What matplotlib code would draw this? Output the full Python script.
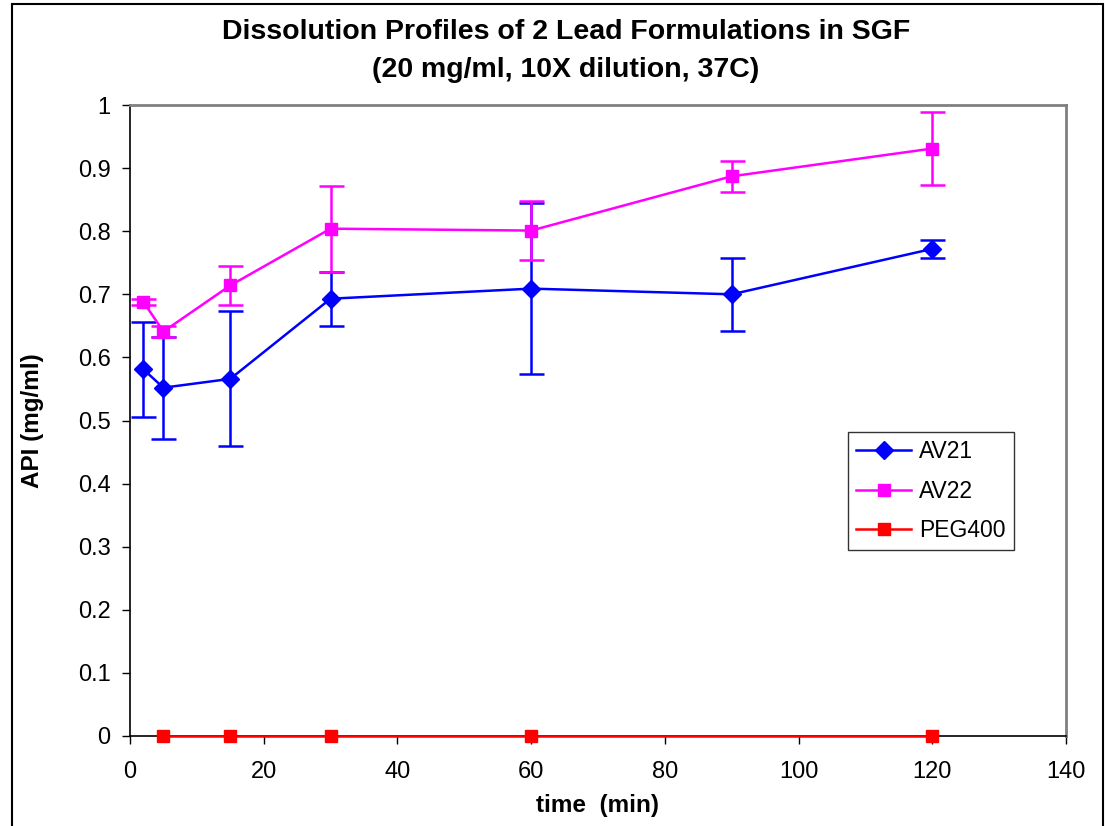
import matplotlib.pyplot as plt
from matplotlib.patches import Rectangle
from matplotlib.lines import Line2D

# dissolution data (mg/ml)
time_av = [2, 5, 15, 30, 60, 90, 120]
av21 = [0.581, 0.552, 0.566, 0.693, 0.709, 0.700, 0.772]
av21_err = [0.075, 0.081, 0.107, 0.043, 0.136, 0.058, 0.014]
av22 = [0.688, 0.641, 0.714, 0.804, 0.801, 0.887, 0.931]
av22_err = [0.005, 0.008, 0.031, 0.068, 0.047, 0.025, 0.058]
time_peg = [5, 15, 30, 60, 120]
peg400 = [0, 0, 0, 0, 0]

plt.rcParams['font.family'] = ['Liberation Sans', 'DejaVu Sans']

fig = plt.figure(figsize=(11.05, 8.26), dpi=100)
ax = fig.add_axes([130 / 1105, 1 - 736 / 826, 936 / 1105, 631 / 826])

# outer frame of the chart area
fig.patches.append(Rectangle((12 / 1105, -0.05), (1103 - 12) / 1105, 1.05 - 4 / 826,
                             transform=fig.transFigure, fill=False,
                             edgecolor='black', lw=1.5))

ax.errorbar(time_av, av21, yerr=av21_err, color='#0000FF', marker='D', markersize=9,
            lw=1.8, capsize=9, capthick=1.8, elinewidth=1.8, zorder=3)
ax.errorbar(time_av, av22, yerr=av22_err, color='#FF00FF', marker='s', markersize=8,
            lw=1.8, capsize=9, capthick=1.8, elinewidth=1.8, zorder=4)
ax.plot(time_peg, peg400, color='#FF0000', marker='s', markersize=8, lw=1.8,
        zorder=5, clip_on=False)

ax.set_xlim(0, 140)
ax.set_ylim(0, 1)
ax.set_xticks(range(0, 141, 20))
ax.set_yticks([i / 10 for i in range(11)])
ax.set_yticklabels(['0', '0.1', '0.2', '0.3', '0.4', '0.5', '0.6', '0.7', '0.8', '0.9', '1'])
ax.tick_params(axis='both', which='major', labelsize=17, direction='out', length=6, width=1)
ax.tick_params(axis='x', pad=12)
ax.tick_params(axis='y', pad=8)

for s in ['top', 'right']:
    ax.spines[s].set_color('#808080')
    ax.spines[s].set_linewidth(2)
for s in ['left', 'bottom']:
    ax.spines[s].set_color('black')
    ax.spines[s].set_linewidth(1.2)

ax.set_xlabel('time  (min)', fontsize=17.5, fontweight='bold', labelpad=8)
ax.set_ylabel('API (mg/ml)', fontsize=17.5, fontweight='bold', labelpad=24)
fig.text(0.512, 1 - 32 / 826, 'Dissolution Profiles of 2 Lead Formulations in SGF',
         ha='center', va='center', fontsize=20.5, fontweight='bold')
fig.text(0.512, 1 - 70 / 826, '(20 mg/ml, 10X dilution, 37C)',
         ha='center', va='center', fontsize=20.5, fontweight='bold')

handles = [
    Line2D([], [], color='#0000FF', marker='D', markersize=9, lw=1.8),
    Line2D([], [], color='#FF00FF', marker='s', markersize=8, lw=1.8),
    Line2D([], [], color='#FF0000', marker='s', markersize=8, lw=1.8),
]
leg = ax.legend(handles, ['AV21', 'AV22', 'PEG400'], loc='upper left',
                bbox_to_anchor=((848 - 130) / 936, (736 - 432) / 631),
                fontsize=16.5, frameon=True, fancybox=False, edgecolor='black',
                handlelength=2.4, handletextpad=0.35, borderpad=0.35, labelspacing=0.72,
                borderaxespad=0)
leg.get_frame().set_linewidth(1)

fig.savefig('out.png', dpi=100)
